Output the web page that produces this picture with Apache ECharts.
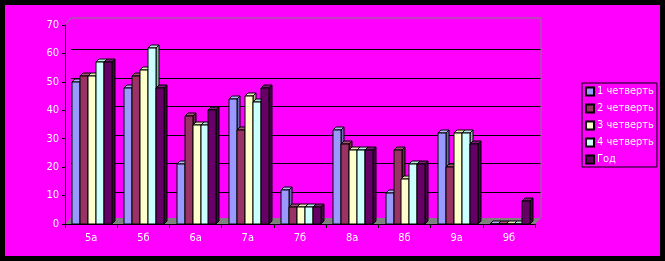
<!DOCTYPE html>
<html>
<head>
<meta charset="utf-8">
<script src="https://cdn.jsdelivr.net/npm/echarts@6/dist/echarts.min.js"></script>
<style>
  html, body { margin: 0; padding: 0; background: #000; }
  #chart { width: 665px; height: 261px; }
</style>
</head>
<body>
<div id="chart"></div>
<script>
const classes = ["5а", "5б", "6а", "7а", "7б", "8а", "8б", "9а", "9б"];
const seriesNames = ["1 четверть", "2 четверть", "3 четверть", "4 четверть", "Год"];
const q1 = [50, 48, 21, 44, 12, 33, 11, 32, 0];
const q2 = [52, 52, 38, 33, 6, 28, 26, 20, 0];
const q3 = [52, 54, 35, 45, 6, 26, 16, 32, 0];
const q4 = [57, 62, 35, 43, 6, 26, 21, 32, 0];
const year = [57, 48, 40, 48, 6, 26, 21, 28, 8];
const yTicks = [0, 10, 20, 30, 40, 50, 60, 70];

const colors = ["#9999ff", "#993366", "#ffffcc", "#ccffff", "#660066"];
const topColors = ["#b3b3ff", "#a8507a", "#e6e6b8", "#b8e6e6", "#7a1a7a"];
const sideColors = ["#6b6bb3", "#6b2447", "#b3b38f", "#8fb3b3", "#470047"];

const textStyle = {
  color: "#ffffff",
  fontFamily: "'Liberation Sans Narrow', 'DejaVu Sans Condensed', sans-serif",
  fontSize: 11,
  textShadowColor: "#000",
  textShadowOffsetX: 1,
  textShadowOffsetY: 1,
  textShadowBlur: 0
};

const D = 3; // bar depth
const makeSeries = (name, k, values) => ({
  name,
  type: "custom",
  itemStyle: { color: colors[k], borderColor: "#000", borderWidth: 1 },
  encode: { x: 0, y: 1 },
  data: values.map((v, i) => [i, v]),
  renderItem(params, api) {
    const cat = api.value(0);
    const base = api.coord([cat, 0]);
    const top = api.coord([cat, api.value(1)]);
    const band = api.size([1, 0])[0];
    const bw = band * 0.152;
    const x0 = Math.round(base[0] - 2.5 * bw + k * bw + 1);
    const w = Math.round(bw);
    const yt = Math.round(top[1]);
    const yb = Math.round(base[1]);
    const st = { stroke: "#000", lineWidth: 1 };
    return {
      type: "group",
      children: [
        { type: "polygon", shape: { points: [[x0 + w, yt], [x0 + w + D, yt - D], [x0 + w + D, yb - D], [x0 + w, yb]] },
          style: Object.assign({ fill: sideColors[k] }, st) },
        { type: "polygon", shape: { points: [[x0, yt], [x0 + D, yt - D], [x0 + w + D, yt - D], [x0 + w, yt]] },
          style: Object.assign({ fill: topColors[k] }, st) },
        { type: "rect", shape: { x: x0, y: yt, width: w, height: yb - yt },
          style: Object.assign({ fill: colors[k] }, st) }
      ]
    };
  }
});

const chart = echarts.init(document.getElementById("chart"));
chart.setOption({
  backgroundColor: "#ff00ff",
  animation: false,
  grid: { left: 65, right: 130, top: 25, bottom: 37 },
  legend: {
    orient: "vertical",
    left: 582,
    top: 83,
    padding: [3, 3, 2, 3],
    itemWidth: 8,
    itemHeight: 8,
    itemGap: 6,
    icon: "rect",
    borderColor: "#000",
    borderWidth: 1,
    textStyle: Object.assign({}, textStyle, { padding: [0, 0, 0, -2] }),
    data: seriesNames
  },
  xAxis: {
    type: "category",
    data: classes,
    axisLine: { lineStyle: { color: "#000", width: 1 } },
    axisTick: { show: true, alignWithLabel: false, lineStyle: { color: "#000" }, length: 4 },
    axisLabel: Object.assign({ margin: 9 }, textStyle),
    splitLine: { show: false }
  },
  yAxis: {
    type: "value",
    min: yTicks[0],
    max: yTicks[yTicks.length - 1],
    interval: 10,
    axisLine: { show: true, lineStyle: { color: "#000" } },
    axisTick: { show: true, length: 3, lineStyle: { color: "#000" } },
    axisLabel: Object.assign({ margin: 6 }, textStyle),
    splitLine: { show: false }
  },
  series: [
    makeSeries(seriesNames[0], 0, q1),
    makeSeries(seriesNames[1], 1, q2),
    makeSeries(seriesNames[2], 2, q3),
    makeSeries(seriesNames[3], 3, q4),
    makeSeries(seriesNames[4], 4, year)
  ]
});

// back wall: gridlines, edges, floor, plus the black frame (from axis pixel positions)
const c0 = chart.convertToPixel({ xAxisIndex: 0, yAxisIndex: 0 }, [0, 0]);
const c1 = chart.convertToPixel({ xAxisIndex: 0, yAxisIndex: 0 }, [1, yTicks[yTicks.length - 1]]);
const half = (c1[0] - c0[0]) / 2;
const xl = c0[0] - half;
const xr = c0[0] + half * (2 * classes.length - 1);
const yb = c0[1];
const yt = c1[1];
const W = 6;
const wallLines = yTicks.slice(1, -1).map(v => {
  const y = Math.round(chart.convertToPixel({ yAxisIndex: 0 }, v) - 4) + 0.5;
  return { type: "line", z: 0, shape: { x1: xl + W, y1: y, x2: xr + W, y2: y },
    style: { stroke: "#000", lineWidth: 1 } };
});
chart.setOption({
  graphic: wallLines.concat([
    { type: "polygon", z: 0, shape: { points: [[xl, yb], [xl + W, yb - W], [xr + W, yb - W], [xr, yb]] },
      style: { fill: "#808080" } },
    { type: "polyline", z: 0, shape: { points: [[xl, yt], [xl + W, yt - 7], [xr + W, yt - 7], [xr + W, yb - W]] },
      style: { stroke: "#808080", fill: null, lineWidth: 1 } },
    { type: "rect", z: 100, shape: { x: 0, y: 0, width: 665, height: 261 },
      style: { fill: null, stroke: "#000", lineWidth: 10 } }
  ])
});
window.addEventListener("resize", chart.resize);
</script>
</body>
</html>
